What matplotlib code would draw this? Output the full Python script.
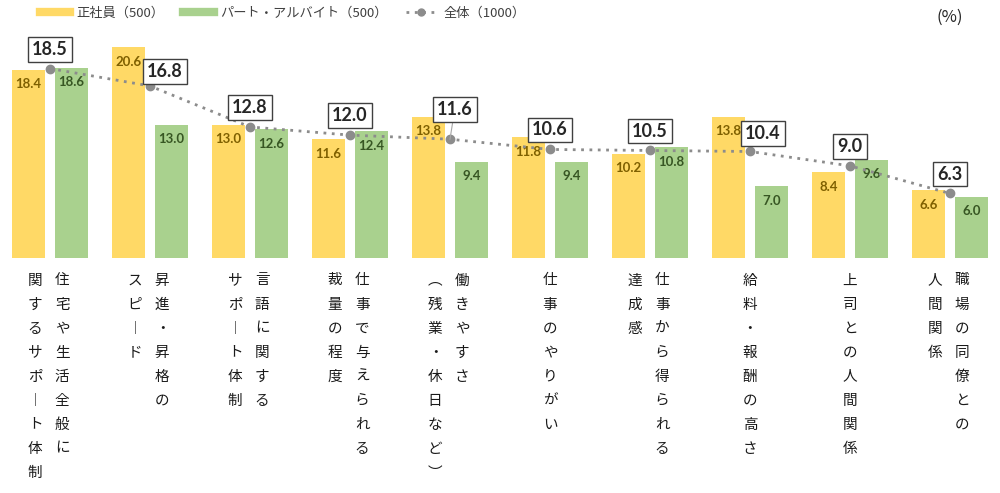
import matplotlib
matplotlib.use("Agg")
import matplotlib.pyplot as plt
from matplotlib.lines import Line2D
import numpy as np

plt.rcParams['font.family'] = ['Noto Sans CJK JP', 'DejaVu Sans']

# ---- data ----
categories = [
    ["住宅や生活全般に", "関するサポート体制"],
    ["昇進・昇格の", "スピード"],
    ["言語に関する", "サポート体制"],
    ["仕事で与えられる", "裁量の程度"],
    ["働きやすさ", "（残業・休日など）"],
    ["仕事のやりがい"],
    ["仕事から得られる", "達成感"],
    ["給料・報酬の高さ"],
    ["上司との人間関係"],
    ["職場の同僚との", "人間関係"],
]
seishain = [18.4, 20.6, 13.0, 11.6, 13.8, 11.8, 10.2, 13.8, 8.4, 6.6]
part = [18.6, 13.0, 12.6, 12.4, 9.4, 9.4, 10.8, 7.0, 9.6, 6.0]
total = [18.5, 16.8, 12.8, 12.0, 11.6, 10.6, 10.5, 10.4, 9.0, 6.3]
legend_labels = ["正社員（500）", "パート・アルバイト（500）", "全体（1000）"]

# label box offsets (styling only): (dx in data, dy in data)
box_offsets = {1: (0.15, 1.45), 4: (0.05, 2.9), 7: (0.13, 1.75)}

YELLOW = "#FFD966"
GREEN = "#A9D18E"
LINE = "#8C8C8C"

fig = plt.figure(figsize=(10, 4.93), dpi=100)
ax = fig.add_axes([0.0, 0.4767, 1.0, 0.4777])
ax.set_xlim(-0.5, len(categories) - 0.5)
ax.set_ylim(0, 23)
ax.axis('off')

x = np.arange(len(categories))
w = 0.33
off = 0.215
ax.bar(x - off, seishain, width=w, color=YELLOW, edgecolor='none', zorder=1)
ax.bar(x + off, part, width=w, color=GREEN, edgecolor='none', zorder=1)

for i in range(len(x)):
    ax.annotate(f"{seishain[i]:.1f}", (x[i] - off, seishain[i]), xytext=(0, -10.5),
                textcoords='offset points', ha='center', va='center',
                fontsize=9.5, color="#7F6000", fontweight='bold', family=['Lato', 'DejaVu Sans'], zorder=2)
    ax.annotate(f"{part[i]:.1f}", (x[i] + off, part[i]), xytext=(0, -10.5),
                textcoords='offset points', ha='center', va='center',
                fontsize=9.5, color="#375623", fontweight='bold', family=['Lato', 'DejaVu Sans'], zorder=2)

ax.plot(x, total, linestyle=(0, (1, 2)), color=LINE, lw=2, marker='o',
        markersize=6, markerfacecolor=LINE, markeredgecolor=LINE, zorder=3)

for i in range(len(x)):
    dx, dy = box_offsets.get(i, (0.0, 1.9))
    bx, by = x[i] + dx, total[i] + dy
    if i == 4:
        ax.plot([x[i], bx - 0.02], [total[i], by - 1.05], color="#A6A6A6", lw=0.8, zorder=3)
    ax.text(bx, by, f"{total[i]:.1f}", ha='center', va='center', fontsize=13,
            fontweight='bold', color="#262626", family=['Lato', 'DejaVu Sans'], zorder=4,
            bbox=dict(boxstyle='square,pad=0.22', facecolor='white', edgecolor='#404040', lw=1))

# vertical category labels
vert_map = {"ー": "︱", "（": "︵", "）": "︶"}
step_pt = 17.3
col_pt = 19.5
for i, lines in enumerate(categories):
    n = len(lines)
    for j, line in enumerate(lines):
        if n == 1:
            xo = 0.0
        else:
            xo = col_pt * ((n - 1) / 2 - j) - 1.0
        for k, ch in enumerate(line):
            ch = vert_map.get(ch, ch)
            ax.annotate(ch, (x[i], 0), xytext=(xo, -16.2 - k * step_pt),
                        textcoords='offset points', ha='center', va='center',
                        fontsize=10.5, color='#1a1a1a', annotation_clip=False)

fig.text(0.95, 0.965, "(%)", ha='center', va='center', fontsize=12, color='#262626')

handles = [Line2D([], [], color=YELLOW, lw=6),
           Line2D([], [], color=GREEN, lw=6),
           Line2D([], [], color=LINE, lw=2, linestyle=(0, (1, 2)), marker='o', markersize=5)]
fig.legend(handles, legend_labels, loc='upper left', bbox_to_anchor=(0.028, 1.01), ncol=3,
           frameon=False, fontsize=9.5, handlelength=2.3, columnspacing=1.4, handletextpad=0.5,
           labelcolor='#404040')

fig.savefig("out.png", dpi=100)
